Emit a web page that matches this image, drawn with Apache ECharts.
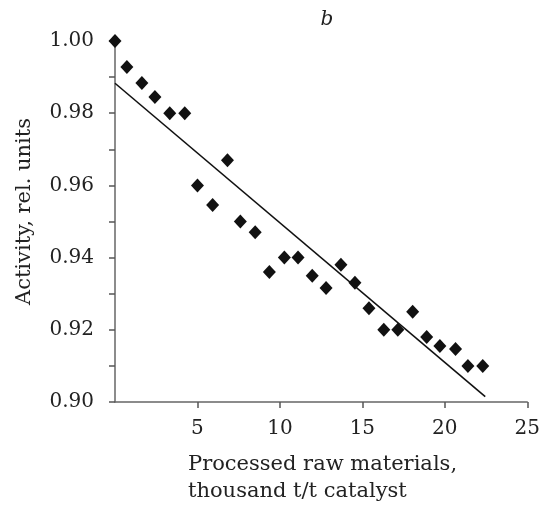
<!DOCTYPE html>
<html>
<head>
<meta charset="utf-8">
<script src="https://cdn.jsdelivr.net/npm/echarts@6/dist/echarts.min.js"></script>
<style>
  html, body { margin: 0; padding: 0; background: #fff; }
  #pic1 { width: 543px; height: 505px; }
</style>
</head>
<body>
<div id="pic1"></div>
<script>
// processed raw materials (thousand t/t catalyst) vs activity (rel. units)
var xVals = [0, 0.72, 1.63, 2.42, 3.32, 4.23, 5.0, 5.92, 6.82, 7.6, 8.5, 9.36, 10.27,
    11.1, 11.96, 12.8, 13.7, 14.55, 15.4, 16.3, 17.15, 18.05, 18.9, 19.7, 20.65, 21.4, 22.3];
var yVals = [1.000, 0.9928, 0.9884, 0.9845, 0.980, 0.980, 0.960, 0.9546, 0.967, 0.950, 0.947, 0.936, 0.940,
    0.940, 0.935, 0.9316, 0.938, 0.933, 0.926, 0.920, 0.920, 0.925, 0.918, 0.9155, 0.9147, 0.910, 0.910];
// linear trend line end points
var trendX = [0, 22.45];
var trendY = [0.9883, 0.9015];

var font = 'DejaVu Serif';
var pic1 = echarts.init(document.getElementById('pic1'));

var points = xVals.map(function (x, i) { return [x, yVals[i]]; });
var trend = trendX.map(function (x, i) { return [x, trendY[i]]; });

var option = {
    animation: false,
    textStyle: { fontFamily: font },
    title: [
        {
            text: 'b',
            left: 322, top: 5, textAlign: 'center',
            textStyle: { fontFamily: font, fontStyle: 'italic', fontWeight: 'normal', fontSize: 20, color: '#222' }
        },
        {
            text: 'Processed raw materials,\nthousand t/t catalyst',
            left: 183, top: 446,
            textStyle: { fontFamily: font, fontWeight: 'normal', fontSize: 21, color: '#222', lineHeight: 27 }
        }
    ],
    grid: { left: 115, right: 14, top: 41, bottom: 103 },
    xAxis: {
        type: 'value',
        min: 0, max: 25, interval: 5,
        splitLine: { show: false },
        axisLine: { lineStyle: { color: '#666', width: 1.5 } },
        axisTick: { length: 6, lineStyle: { color: '#555', width: 1.5 } },
        axisLabel: {
            showMinLabel: false, margin: 17,
            fontFamily: font, fontSize: 20, color: '#222'
        }
    },
    yAxis: {
        type: 'value',
        min: 0.90, max: 1.00, interval: 0.01,
        name: 'Activity, rel. units',
        nameLocation: 'middle', nameGap: 80,
        nameTextStyle: { fontFamily: font, fontSize: 21, color: '#222', padding: [0, 0, 0, 20] },
        splitLine: { show: false },
        axisLine: { lineStyle: { color: '#666', width: 1.5 } },
        axisTick: { length: 6, lineStyle: { color: '#555', width: 1.5 } },
        axisLabel: {
            margin: 21, fontFamily: font, fontSize: 20, color: '#222',
            formatter: function (v) {
                var k = Math.round(v * 100);
                return k % 2 === 0 ? (k / 100).toFixed(2) : '';
            }
        }
    },
    series: [
        {
            type: 'line',
            data: trend,
            symbol: 'none',
            lineStyle: { color: '#111', width: 1.6 },
            z: 1
        },
        {
            type: 'scatter',
            data: points,
            symbol: 'diamond',
            symbolSize: [13, 14],
            itemStyle: { color: '#111', opacity: 1 },
            z: 2
        }
    ]
};

pic1.setOption(option);
</script>
</body>
</html>
